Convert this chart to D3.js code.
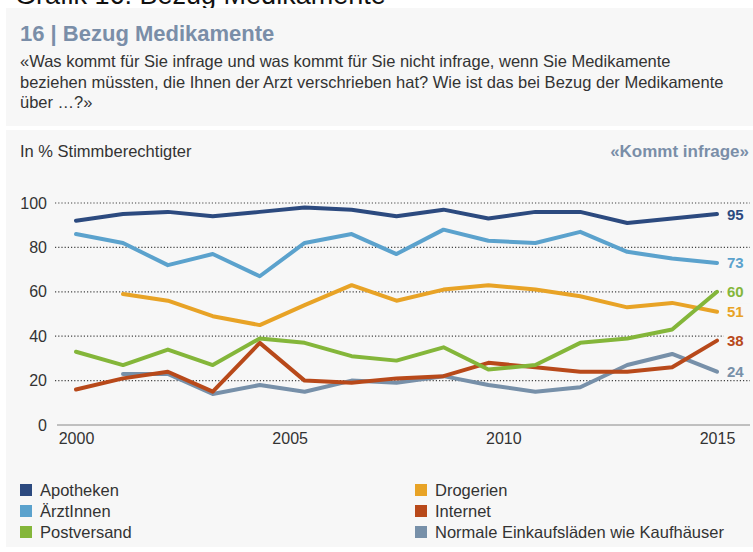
<!DOCTYPE html>
<html>
<head>
<meta charset="utf-8">
<script src="https://cdn.jsdelivr.net/npm/d3@7"></script>
<style>
  body { margin: 0; background: #fff; }
  text { font-family: "Liberation Sans", Arial, Helvetica, sans-serif; }
</style>
</head>
<body>
<div id="chart"></div>
<script>
// survey waves (decimal years)
const dates = [2000, 2001.1, 2002.15, 2003.2, 2004.3, 2005.35, 2006.45, 2007.5, 2008.6, 2009.65, 2010.75, 2011.8, 2012.9, 2013.95, 2015];

const apotheken = [92, 95, 96, 94, 96, 98, 97, 94, 97, 93, 96, 96, 91, 93, 95];
const aerztinnen = [86, 82, 72, 77, 67, 82, 86, 77, 88, 83, 82, 87, 78, 75, 73];
const drogerien = [null, 59, 56, 49, 45, 54, 63, 56, 61, 63, 61, 58, 53, 55, 51];
const postversand = [33, 27, 34, 27, 39, 37, 31, 29, 35, 25, 27, 37, 39, 43, 60];
const internet = [16, 21, 24, 15, 37, 20, 19, 21, 22, 28, 26, 24, 24, 26, 38];
const einkauf = [null, 23, 23, 14, 18, 15, 20, 19, 22, 18, 15, 17, 27, 32, 24];

const yTicks = [0, 20, 40, 60, 80, 100];
const xTicks = [2000, 2005, 2010, 2015];

const series = [
  { name: "Apotheken", values: apotheken, color: "#2c4a7f" },
  { name: "ÄrztInnen", values: aerztinnen, color: "#5ba2cd" },
  { name: "Drogerien", values: drogerien, color: "#e8a326" },
  { name: "Postversand", values: postversand, color: "#84b63a" },
  { name: "Internet", values: internet, color: "#b8491a" },
  { name: "Normale Einkaufsläden wie Kaufhäuser", values: einkauf, color: "#7790a9" }
];

// legend order: two columns
const legendCols = [
  ["Apotheken", "ÄrztInnen", "Postversand"],
  ["Drogerien", "Internet", "Normale Einkaufsläden wie Kaufhäuser"]
];

const width = 753;
const height = 552;
const bg = "#f7f7f7";
const accent = "#7a8ea8";
const textColor = "#333";

const svg = d3.select("#chart")
  .append("svg")
  .attr("width", width)
  .attr("height", height);

// heading above the panels (cut off at the top like in the source)
svg.append("text")
  .attr("x", 15)
  .attr("y", 4)
  .style("font-size", "27px")
  .attr("fill", "#111")
  .text("Grafik 16: Bezug Medikamente");

// header panel
svg.append("rect")
  .attr("x", 6).attr("y", 8)
  .attr("width", width - 6).attr("height", 118)
  .attr("fill", bg);

svg.append("text")
  .attr("x", 20).attr("y", 41)
  .attr("fill", accent)
  .attr("font-weight", "bold")
  .style("font-size", "22px")
  .text("16 | Bezug Medikamente");

const question = [
  "«Was kommt für Sie infrage und was kommt für Sie nicht infrage, wenn Sie Medikamente",
  "beziehen müssten, die Ihnen der Arzt verschrieben hat? Wie ist das bei Bezug der Medikamente",
  "über …?»"
];
svg.append("g")
  .selectAll("text")
  .data(question)
  .join("text")
  .attr("x", 20)
  .attr("y", (d, i) => 67 + i * 20.5)
  .attr("fill", textColor)
  .style("font-size", "16.5px")
  .text(d => d);

// chart panel
svg.append("rect")
  .attr("x", 6).attr("y", 130)
  .attr("width", width - 6).attr("height", 417)
  .attr("fill", bg);

svg.append("text")
  .attr("x", 20).attr("y", 157)
  .attr("fill", textColor)
  .style("font-size", "16.5px")
  .text("In % Stimmberechtigter");

svg.append("text")
  .attr("x", 749).attr("y", 157)
  .attr("text-anchor", "end")
  .attr("fill", accent)
  .attr("font-weight", "bold")
  .style("font-size", "17px")
  .text("«Kommt infrage»");

// scales
const x = d3.scaleLinear().domain([2000, 2015]).range([76, 717]);
const y = d3.scaleLinear().domain([0, 100]).range([425, 203]);

// grid lines
svg.append("g")
  .selectAll("line")
  .data(yTicks.filter(d => d > 0))
  .join("line")
  .attr("x1", 55).attr("x2", 750)
  .attr("y1", d => y(d)).attr("y2", d => y(d))
  .attr("stroke", "#444")
  .attr("stroke-width", 1.2)
  .attr("stroke-dasharray", "1.2,2");

// baseline
svg.append("line")
  .attr("x1", 57).attr("x2", 750)
  .attr("y1", y(0)).attr("y2", y(0))
  .attr("stroke", "#888")
  .attr("stroke-width", 1);

// y axis labels
const yAxis = svg.append("g")
  .attr("transform", "translate(47,0)")
  .call(d3.axisLeft(y).tickValues(yTicks).tickSize(0).tickPadding(0));
yAxis.select(".domain").remove();
yAxis.selectAll("text")
  .attr("fill", textColor)
  .style("font-size", "16px")
  .style("font-family", "Liberation Sans, Arial, sans-serif");

// x axis labels
const xAxis = svg.append("g")
  .attr("transform", `translate(0,${y(0)})`)
  .call(d3.axisBottom(x).tickValues(xTicks).tickFormat(d3.format("d")).tickSize(0).tickPadding(8));
xAxis.select(".domain").remove();
xAxis.selectAll("text")
  .attr("fill", textColor)
  .style("font-size", "16px")
  .style("font-family", "Liberation Sans, Arial, sans-serif");

// lines
const line = d3.line()
  .defined(d => d.v != null)
  .x(d => x(d.t))
  .y(d => y(d.v));

// draw order: back to front
const drawOrder = ["Drogerien", "Normale Einkaufsläden wie Kaufhäuser", "Internet", "Postversand", "ÄrztInnen", "Apotheken"];

drawOrder.forEach(name => {
  const s = series.find(d => d.name === name);
  const pts = s.values.map((v, i) => ({ t: dates[i], v: v }));
  svg.append("path")
    .datum(pts)
    .attr("d", line)
    .attr("fill", "none")
    .attr("stroke", s.color)
    .attr("stroke-width", 4)
    .attr("stroke-linejoin", "round")
    .attr("stroke-linecap", "round");
});

// end value labels
series.forEach(s => {
  const last = s.values[s.values.length - 1];
  const ly = y(last);
  svg.append("rect")
    .attr("x", 724).attr("y", ly - 8)
    .attr("width", 26).attr("height", 16)
    .attr("fill", bg);
  svg.append("text")
    .attr("x", 727)
    .attr("y", ly)
    .attr("dy", "0.36em")
    .attr("fill", s.color)
    .attr("font-weight", "bold")
    .style("font-size", "15px")
    .text(last);
});

// legend
const colX = [20, 415];
legendCols.forEach((col, ci) => {
  col.forEach((name, ri) => {
    const s = series.find(d => d.name === name);
    const g = svg.append("g")
      .attr("transform", `translate(${colX[ci]},${490 + ri * 21})`);
    g.append("rect")
      .attr("x", 0).attr("y", -6)
      .attr("width", 12).attr("height", 12)
      .attr("fill", s.color);
    g.append("text")
      .attr("x", 20).attr("y", 0)
      .attr("dy", "0.36em")
      .attr("fill", textColor)
      .style("font-size", "16.5px")
      .text(name);
  });
});
</script>
</body>
</html>
